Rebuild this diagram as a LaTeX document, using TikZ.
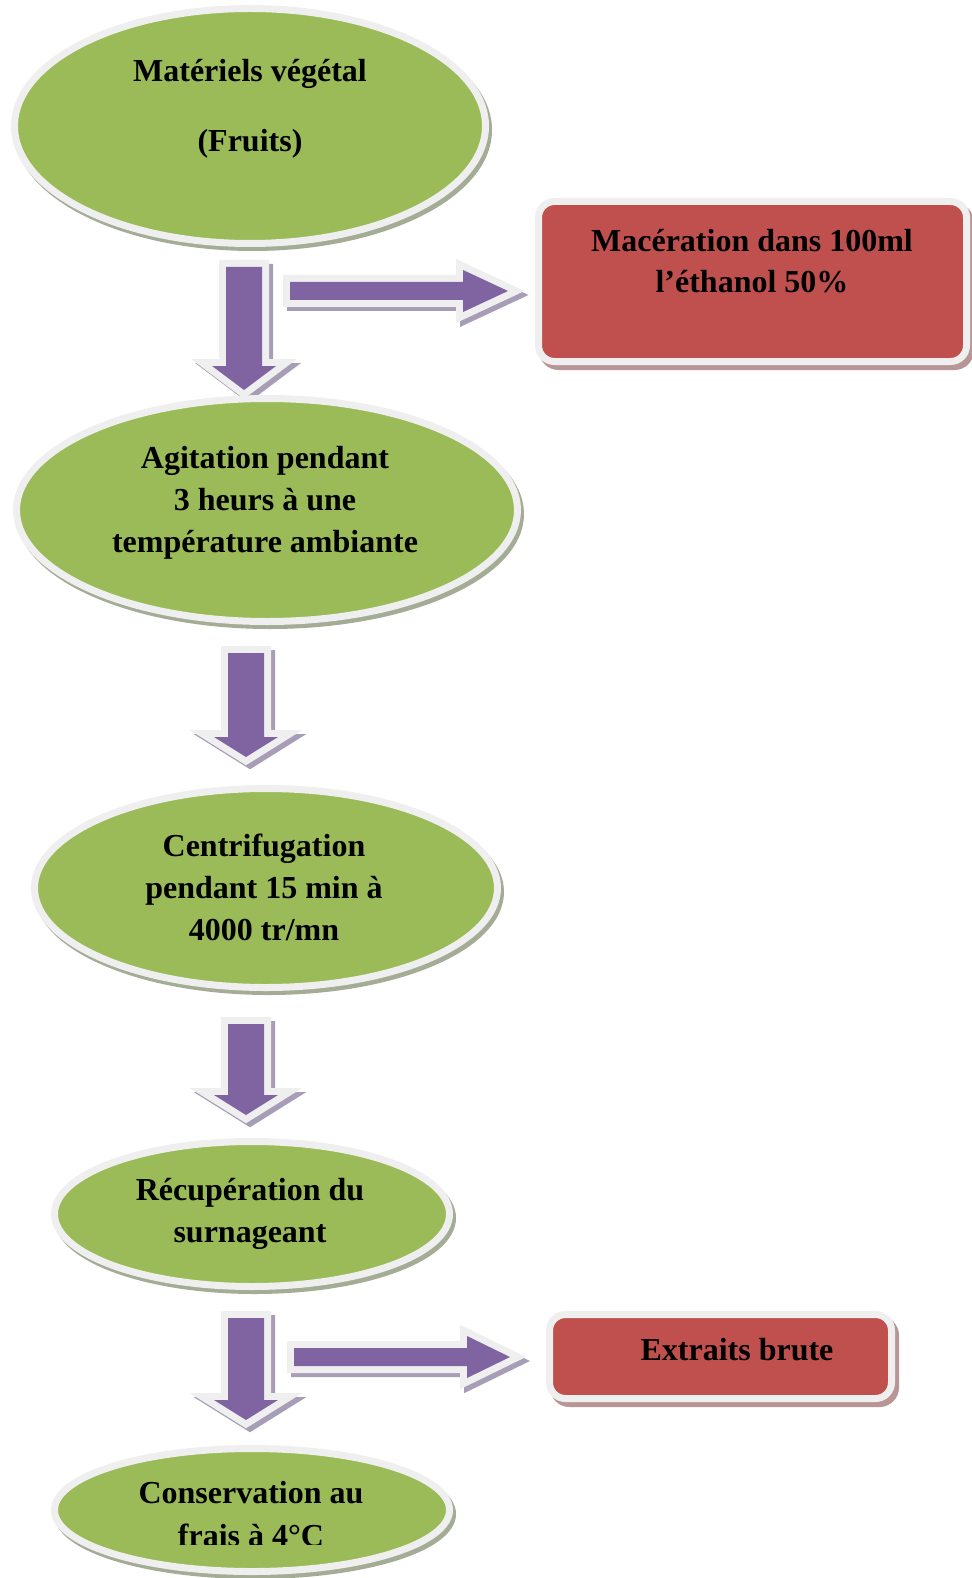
\documentclass[tikz,border=0pt]{standalone}
\usepackage{fontspec}
\setmainfont{Liberation Serif}
\usetikzlibrary{shapes.geometric,calc}
\definecolor{vgreen}{HTML}{9BBB59}
\definecolor{vred}{HTML}{C0504D}
\definecolor{vpurple}{HTML}{8064A2}
\definecolor{ringgray}{HTML}{EFEFEF}
\definecolor{gshadow}{HTML}{A4AC95}
\definecolor{rshadow}{HTML}{B99696}
\definecolor{pshadow}{HTML}{A89DB6}
\tikzset{
  greenell/.style={ellipse, fill=vgreen, draw=ringgray, line width=7pt, inner sep=0pt,
    preaction={fill=gshadow, draw=gshadow, line width=7pt, transform canvas={shift={(3pt,-4pt)}}}},
  redbox/.style={rectangle, rounded corners=16pt, fill=vred, draw=ringgray, line width=7pt, inner sep=0pt,
    preaction={fill=rshadow, draw=rshadow, line width=7pt, transform canvas={shift={(4pt,-5pt)}}}},
  txt/.style={anchor=base, inner sep=0pt, font=\fontsize{32}{42}\selectfont\bfseries},
  arrowshadow/.style={fill=pshadow, draw=pshadow, line width=14pt, line join=miter, transform canvas={shift={(4pt,-4pt)}}},
  arrowring/.style={draw=ringgray, line width=14pt, line join=miter},
  arrowbody/.style={fill=vpurple},
  vdown/.style n args={3}{insert path={let \p1=(#1), \p2=(#2) in
    (\x1-18pt,\y1) -- (\x1+18pt,\y1) -- (\x1+18pt,\y2+#3pt) -- (\x1+32pt,\y2+#3pt) --
    (\x1,\y2) -- (\x1-32pt,\y2+#3pt) -- (\x1-18pt,\y2+#3pt) -- cycle}},
  hright/.style n args={3}{insert path={let \p1=(#1), \p2=(#2) in
    (\x1,\y1+9pt) -- (\x2-#3pt,\y1+9pt) -- (\x2-#3pt,\y1+21pt) -- (\x2,\y1) --
    (\x2-#3pt,\y1-21pt) -- (\x2-#3pt,\y1-9pt) -- (\x1,\y1-9pt) -- cycle}},
}
\newcommand{\DownBlock}[3]{%
  \path[arrowshadow, vdown={#1}{#2}{#3}];
  \path[arrowring, vdown={#1}{#2}{#3}];
  \path[arrowbody, vdown={#1}{#2}{#3}];}
\newcommand{\RightBlock}[3]{%
  \path[arrowshadow, hright={#1}{#2}{#3}];
  \path[arrowring, hright={#1}{#2}{#3}];
  \path[arrowbody, hright={#1}{#2}{#3}];}
\begin{document}
\begin{tikzpicture}[x=1pt,y=-1pt]
\fill[white] (0,0) rectangle (971,1578);
\useasboundingbox (0,0) rectangle (971,1578);

% arrow end points
\coordinate (d1s) at (244,267);  \coordinate (d1e) at (244,390);
\coordinate (r1s) at (290,291);  \coordinate (r1e) at (508,291);
\coordinate (d2s) at (246,653);  \coordinate (d2e) at (246,757);
\coordinate (d3s) at (246,1024); \coordinate (d3e) at (246,1115);
\coordinate (d4s) at (246,1318); \coordinate (d4e) at (246,1420);
\coordinate (r2s) at (294,1357); \coordinate (r2e) at (510,1357);

\DownBlock{d1s}{d1e}{24}
\RightBlock{r1s}{r1e}{45}
\DownBlock{d2s}{d2e}{20}
\DownBlock{d3s}{d3e}{20}
\DownBlock{d4s}{d4e}{20}
\RightBlock{r2s}{r2e}{43}

% shapes
\node[greenell, minimum width=471pt, minimum height=235pt] (e1) at (250,126) {};
\node[greenell, minimum width=501pt, minimum height=223pt] (e2) at (267,510) {};
\node[greenell, minimum width=463pt, minimum height=199pt] (e3) at (266,888) {};
\node[greenell, minimum width=395pt, minimum height=145pt] (e4) at (252,1214) {};
\node[greenell, minimum width=395pt, minimum height=123pt] (e5) at (252,1510) {};
\node[redbox, minimum width=428pt, minimum height=160pt] (r1) at (752.5,281.5) {};
\node[redbox, minimum width=342pt, minimum height=84pt] (r2) at (720.5,1356.5) {};

% texts
\node[txt] (t1a) at (250,82) {Matériels végétal};
\node[txt] (t1b) at (250,152) {(Fruits)};
\node[txt] (t2a) at (265,468) {Agitation pendant};
\node[txt] (t2b) at (265,510) {3 heurs à une};
\node[txt] (t2c) at (265,552) {température ambiante};
\node[txt] (t3a) at (264,856) {Centrifugation};
\node[txt] (t3b) at (264,898) {pendant 15 min à};
\node[txt] (t3c) at (264,940) {4000 tr/mn};
\node[txt] (t4a) at (250,1200) {Récupération du};
\node[txt] (t4b) at (250,1242) {surnageant};
\node[txt] (t5a) at (251,1503) {Conservation au};
\begin{scope}
\clip (0,1400) rectangle (971,1544);
\node[txt] (t5b) at (251,1546) {frais à 4°C};
\end{scope}
\node[txt] (tr1a) at (752,252) {Macération dans 100ml};
\node[txt] (tr1b) at (752,293) {l’éthanol 50\%};
\node[txt] (tr2) at (737,1360) {Extraits brute};
\end{tikzpicture}
\end{document}
